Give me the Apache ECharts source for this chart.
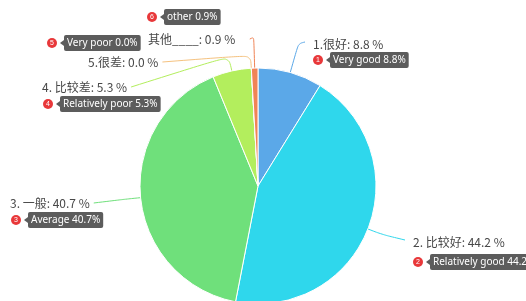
<!DOCTYPE html>
<html>
<head>
<meta charset="utf-8">
<script src="https://cdn.jsdelivr.net/npm/echarts@6/dist/echarts.min.js"></script>
<style>
	html, body { margin: 0; padding: 0; background: #fff; }
	#pie { width: 526px; height: 301px; }
</style>
</head>
<body>
<div id="pie"></div>
<script>
	// 满意度
	var names = ['1.很好', '2. 比较好', '3. 一般', '4. 比较差', '5.很差', '其他____'];
	var enNames = ['Very good', 'Relatively good', 'Average', 'Relatively poor', 'Very poor', 'other'];
	var values = [8.8, 44.2, 40.7, 5.3, 0.0, 0.9];
	var colors = ['#5ba8e8', '#2fd7ec', '#6fe07b', '#b3ee5d', '#f5c27f', '#f08456'];

	var center = [258, 186];
	// 标签位置 [x, y]
	var labelPos = [[313, 44], [413, 242], [10, 203], [42, 87], [88, 62], [148, 39]];
	// 引导线第一段长度
	var lineLen = [30, 15, 15, 15, 13, 31];
	// 注释位置 [圆心x, y]
	var tagPos = [[318, 60], [418, 262], [16, 220], [48, 104], [52, 43], [152, 17]];

	var pie = echarts.init(document.getElementById('pie'));

	var graphics = [];
	for (var i = 0; i < names.length; i++) {
		var cx = tagPos[i][0], cy = tagPos[i][1];
		graphics.push({
			type: 'circle',
			shape: { cx: cx, cy: cy, r: 5 },
			style: { fill: '#e8383a' }
		}, {
			type: 'text',
			x: cx, y: cy,
			style: {
				text: String(i + 1),
				fill: '#fff',
				font: '7px sans-serif',
				align: 'center',
				verticalAlign: 'middle'
			}
		}, {
			type: 'polygon',
			shape: { points: [[cx + 12, cy - 3], [cx + 8, cy], [cx + 12, cy + 3]] },
			style: { fill: '#5c5c5c' }
		}, {
			type: 'text',
			x: cx + 12, y: cy,
			style: {
				text: enNames[i] + ' ' + values[i].toFixed(1) + '%',
				fill: '#fff',
				font: '10px "Noto Sans", sans-serif',
				verticalAlign: 'middle',
				backgroundColor: '#5c5c5c',
				padding: [3, 3, 3, 3],
				borderRadius: 2
			}
		});
	}

	var option = {
		backgroundColor: '#fff',
		color: colors,
		animation: false,
		graphic: graphics,
		series: [{
			type: 'pie',
			center: center,
			radius: 118,
			startAngle: 90,
			clockwise: true,
			avoidLabelOverlap: false,
			itemStyle: {
				borderColor: '#fff',
				borderWidth: 1
			},
			label: {
				show: true,
				color: '#484848',
				fontSize: 12,
				fontFamily: '"Noto Sans CJK SC", sans-serif',
				formatter: function(p) {
					return p.name + ': ' + p.value.toFixed(1) + ' %';
				}
			},
			labelLine: {
				show: true,
				smooth: 0.35,
				length: 12,
				length2: 10
			},
			labelLayout: function(p) {
				var i = p.dataIndex;
				var pos = labelPos[i];
				var p0 = p.labelLinePoints[0];
				var dx = p0[0] - center[0], dy = p0[1] - center[1];
				var d = Math.sqrt(dx * dx + dy * dy);
				var p1 = [p0[0] + dx / d * lineLen[i], p0[1] + dy / d * lineLen[i]];
				var p2 = pos[0] > center[0]
					? [pos[0] - 8, pos[1] - 2]
					: [pos[0] + p.labelRect.width + 4, pos[1]];
				if (i === 5) p2 = [p1[0] - 4, p1[1] + 2];
				return {
					x: pos[0],
					y: pos[1],
					align: 'left',
					verticalAlign: 'middle',
					labelLinePoints: [p0, p1, p2]
				};
			},
			data: names.map(function(n, i) {
				return { name: n, value: values[i] };
			})
		}]
	};
	pie.setOption(option);
</script>
</body>
</html>
